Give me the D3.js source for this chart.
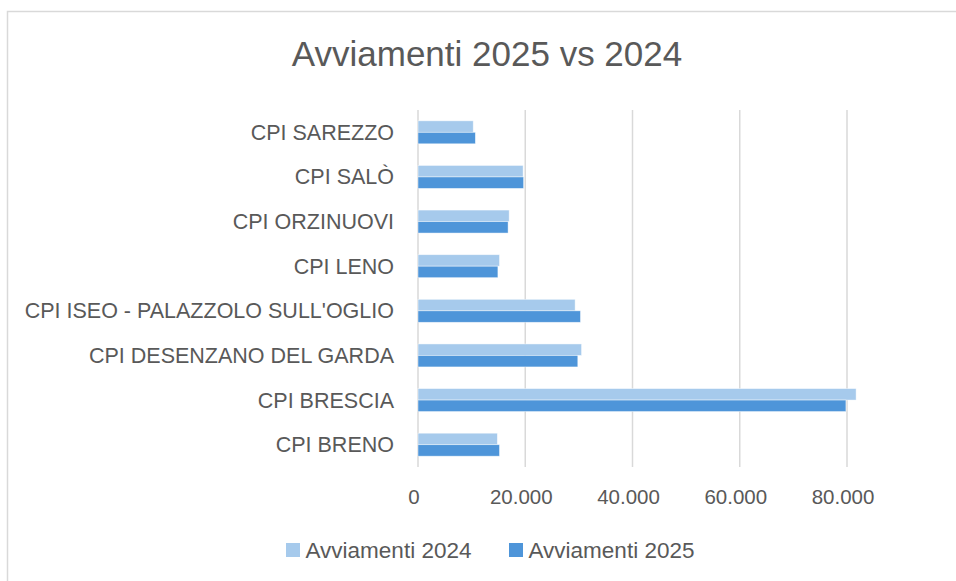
<!DOCTYPE html>
<meta charset="utf-8">
<style>
body {
  margin: 0;
  background: #fff;
  font-family: "Liberation Sans", Arial, sans-serif;
}
.grid line {
  stroke: #d9d9d9;
  stroke-width: 1.5;
}
.cat, .tick-label, .legend text {
  fill: #595959;
}
</style>
<body>
<script src="https://cdn.jsdelivr.net/npm/d3@7"></script>
<script>

var width = 956,
    height = 581;

// categories, bottom to top as in the sheet
var categories = ["CPI BRENO", "CPI BRESCIA", "CPI DESENZANO DEL GARDA",
  "CPI ISEO - PALAZZOLO SULL'OGLIO", "CPI LENO", "CPI ORZINUOVI", "CPI SALÒ", "CPI SAREZZO"];
var series = ["Avviamenti 2024", "Avviamenti 2025"];
var values2024 = [14800, 81700, 30500, 29300, 15200, 17000, 19600, 10300];
var values2025 = [15200, 79800, 29800, 30300, 14900, 16800, 19700, 10700];
var ticks = [0, 20000, 40000, 60000, 80000];
var colors = ["#a6caec", "#4e95d9"];

var data = categories.map(function(c, i) {
  return { cat: c, v: [values2024[i], values2025[i]] };
});

var svg = d3.select("body").append("svg")
    .attr("width", width)
    .attr("height", height);

// chart frame
svg.append("rect")
    .attr("x", 7.5)
    .attr("y", 11.5)
    .attr("width", 1000)
    .attr("height", 700)
    .attr("fill", "none")
    .attr("stroke", "#d9d9d9")
    .attr("stroke-width", 1.5);

svg.append("text")
    .attr("x", 487)
    .attr("y", 66)
    .attr("text-anchor", "middle")
    .attr("fill", "#595959")
    .style("font-size", "35px")
    .text("Avviamenti 2025 vs 2024");

var x = d3.scaleLinear()
    .domain([0, 80000])
    .range([418, 847]);

var y = d3.scaleBand()
    .domain(categories.slice().reverse())
    .range([110, 467])
    .paddingInner(0.485)
    .paddingOuter(0.2425);

var sub = d3.scaleBand()
    .domain(series)
    .range([0, y.bandwidth()]);

svg.append("g")
    .attr("class", "grid")
  .selectAll("line")
    .data(ticks)
  .enter().append("line")
    .attr("x1", function(d) { return x(d); })
    .attr("x2", function(d) { return x(d); })
    .attr("y1", 110)
    .attr("y2", 467);

svg.selectAll(".tick-label")
    .data(ticks)
  .enter().append("text")
    .attr("class", "tick-label")
    .attr("x", function(d) { return x(d) - 4; })
    .attr("y", 504)
    .attr("text-anchor", "middle")
    .style("font-size", "20.5px")
    .text(function(d) { return d === 0 ? "0" : d3.format(",")(d).replace(/,/g, "."); });

var groups = svg.selectAll(".group")
    .data(data)
  .enter().append("g")
    .attr("class", "group")
    .attr("transform", function(d) { return "translate(0," + y(d.cat) + ")"; });

groups.selectAll("rect")
    .data(function(d) { return d.v.map(function(v, i) { return { s: series[i], v: v, i: i }; }); })
  .enter().append("rect")
    .attr("x", x(0))
    .attr("y", function(d) { return sub(d.s); })
    .attr("width", function(d) { return x(d.v) - x(0); })
    .attr("height", sub.bandwidth())
    .attr("fill", function(d) { return colors[d.i]; })
    .attr("stroke", "#fff")
    .attr("stroke-opacity", 0.6)
    .attr("stroke-width", 0.75);

groups.append("text")
    .attr("class", "cat")
    .attr("x", 394)
    .attr("y", y.bandwidth() / 2)
    .attr("dy", "0.35em")
    .attr("text-anchor", "end")
    .style("font-size", "21.5px")
    .text(function(d) { return d.cat; });

var legendX = [286, 509];
var legend = svg.selectAll(".legend")
    .data(series)
  .enter().append("g")
    .attr("class", "legend")
    .attr("transform", function(d, i) { return "translate(" + legendX[i] + ",543)"; });

legend.append("rect")
    .attr("width", 14)
    .attr("height", 14)
    .attr("fill", function(d, i) { return colors[i]; });

legend.append("text")
    .attr("x", 19.5)
    .attr("y", 14.5)
    .style("font-size", "22.5px")
    .text(function(d) { return d; });

</script>
